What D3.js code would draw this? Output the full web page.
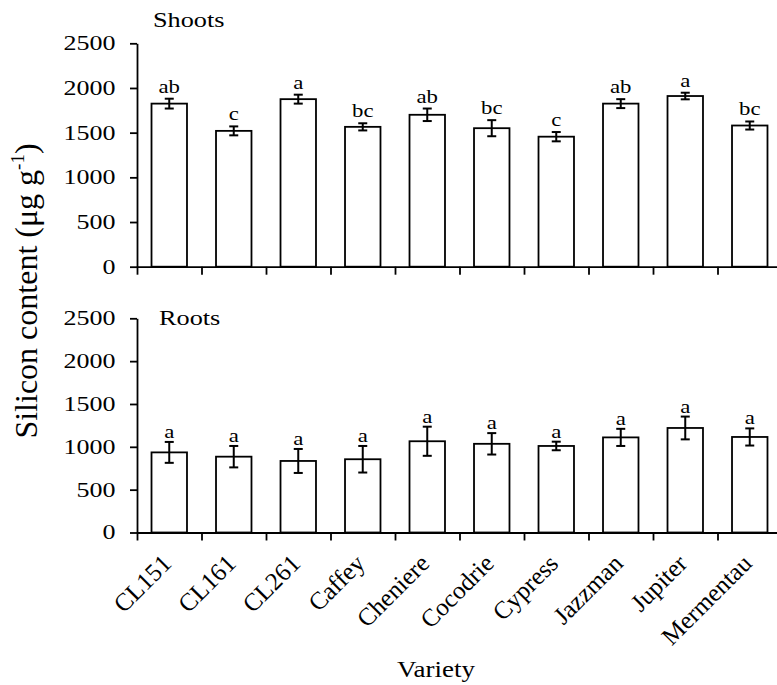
<!DOCTYPE html>
<html>
<head>
<meta charset="utf-8">
<script src="https://cdn.jsdelivr.net/npm/d3@7"></script>
<style>
  body { margin: 0; background: #fff; }
  text { font-family: "Liberation Serif", "Times New Roman", serif; fill: #000; }
</style>
</head>
<body>
<svg id="chart" width="777" height="685"></svg>
<script>
const varieties    = ["CL151", "CL161", "CL261", "Caffey", "Cheniere", "Cocodrie", "Cypress", "Jazzman", "Jupiter", "Mermentau"];
const shootMeans   = [1825, 1520, 1875, 1565, 1700, 1550, 1455, 1825, 1910, 1580];
const shootErrs    = [55, 50, 50, 40, 70, 90, 52, 50, 37, 45];
const shootLetters = ["ab", "c", "a", "bc", "ab", "bc", "c", "ab", "a", "bc"];
const rootMeans    = [935, 885, 835, 855, 1065, 1035, 1010, 1110, 1220, 1115];
const rootErrs     = [122, 125, 140, 155, 170, 125, 50, 100, 133, 100];
const rootLetters  = ["a", "a", "a", "a", "a", "a", "a", "a", "a", "a"];
const yTicks       = [0, 500, 1000, 1500, 2000, 2500];

const svg = d3.select("#chart");
const X0 = 137, X1 = 782;

const x = d3.scaleBand().domain(varieties).range([X0, X1])
    .paddingInner(0.45).paddingOuter(0.225);
// ticks sit on the boundaries between categories
const xEdge = d3.scaleLinear().domain([0, varieties.length]).range([X0, X1]);

function drawPanel(means, errs, letters, title, top, bottom, titleX, titleY, gap) {
    const y = d3.scaleLinear().domain([0, 2500]).range([bottom, top]);
    const g = svg.append("g");

    // bars
    g.selectAll(".bar").data(varieties).enter().append("rect")
        .attr("x", d => x(d))
        .attr("y", (d, i) => y(means[i]))
        .attr("width", x.bandwidth())
        .attr("height", (d, i) => bottom - y(means[i]))
        .attr("fill", "#fff").attr("stroke", "#000").attr("stroke-width", 1.8);

    // error bars
    const eb = g.selectAll(".err").data(varieties).enter().append("g")
        .attr("transform", d => `translate(${x(d) + x.bandwidth() / 2},0)`);
    eb.append("line")
        .attr("y1", (d, i) => y(means[i] - errs[i]))
        .attr("y2", (d, i) => y(means[i] + errs[i]));
    eb.append("line").attr("x1", -4.5).attr("x2", 4.5)
        .attr("y1", (d, i) => y(means[i] + errs[i])).attr("y2", (d, i) => y(means[i] + errs[i]));
    eb.append("line").attr("x1", -4.5).attr("x2", 4.5)
        .attr("y1", (d, i) => y(means[i] - errs[i])).attr("y2", (d, i) => y(means[i] - errs[i]));
    eb.selectAll("line").attr("stroke", "#000").attr("stroke-width", 2);

    // significance letters
    eb.append("text")
        .attr("text-anchor", "middle")
        .attr("font-size", 19)
        .attr("transform", (d, i) => `translate(0,${y(means[i] + errs[i]) - gap}) scale(1.2,1)`)
        .text((d, i) => letters[i]);

    // y axis
    const ya = g.append("g").attr("transform", `translate(${X0},0)`)
        .call(d3.axisLeft(y).tickValues(yTicks).tickSize(7).tickSizeOuter(0).tickFormat(d3.format("d")));
    ya.selectAll("line, path").attr("stroke", "#000").attr("stroke-width", 1.8);
    ya.selectAll("text")
        .attr("font-size", 20).attr("fill", "#000")
        .attr("x", -16.5).attr("transform", "scale(1.3,1)");

    // x axis
    const xa = g.append("g").attr("transform", `translate(0,${bottom})`)
        .call(d3.axisBottom(xEdge).tickValues(d3.range(varieties.length + 1))
            .tickSize(8).tickSizeOuter(0).tickFormat(""));
    xa.selectAll("line, path").attr("stroke", "#000").attr("stroke-width", 1.8);

    // panel title
    g.append("text")
        .attr("font-size", 21)
        .attr("transform", `translate(${titleX},${titleY}) scale(1.25,1)`)
        .text(title);

    return y;
}

drawPanel(shootMeans, shootErrs, shootLetters, "Shoots", 43.3, 266.7, 153, 27.3, 6);
drawPanel(rootMeans, rootErrs, rootLetters, "Roots", 318.3, 532.5, 159, 325, 4);

// category labels
svg.append("g").selectAll("text").data(varieties).enter().append("text")
    .attr("text-anchor", "end")
    .attr("font-size", 25)
    .attr("transform", d => `translate(${x(d) + x.bandwidth() / 2 + 3.5},565) rotate(-45)`)
    .text(d => d);

// axis titles
svg.append("text")
    .attr("font-size", 22.5)
    .attr("text-anchor", "middle")
    .attr("transform", "translate(436,677) scale(1.2,1)")
    .text("Variety");

const yt = svg.append("text")
    .attr("font-size", 32)
    .attr("text-anchor", "middle")
    .attr("transform", "translate(37,291) rotate(-90)");
yt.append("tspan").text("Silicon content (\u03bcg g");
yt.append("tspan").attr("font-size", 19).attr("dy", -13).text("-1");
yt.append("tspan").attr("dy", 13).text(")");
</script>
</body>
</html>
